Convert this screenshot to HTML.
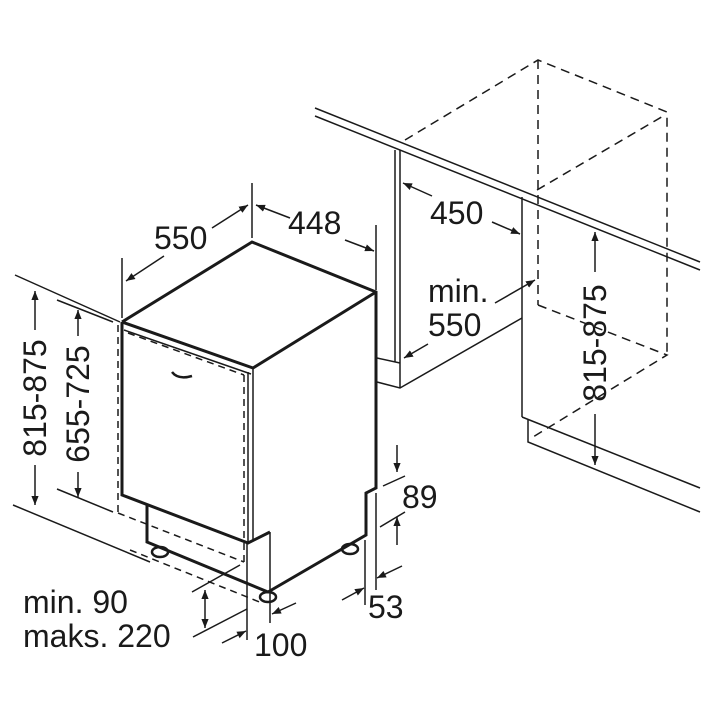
<!DOCTYPE html>
<html><head><meta charset="utf-8"><style>
html,body{margin:0;padding:0;background:#fff}
svg{display:block}
text{font-family:"Liberation Sans",sans-serif;font-size:32px;fill:#1a1a1a}
</style></head><body>
<svg width="720" height="720" viewBox="0 0 720 720" xmlns="http://www.w3.org/2000/svg">
<defs>
<marker id="a" viewBox="0 0 10 10" refX="10" refY="5" markerWidth="9" markerHeight="9" orient="auto-start-reverse" markerUnits="userSpaceOnUse"><path d="M0,1 L10,5 L0,9 Z" fill="#1a1a1a"/></marker>
</defs>
<g stroke="#1a1a1a" fill="none" stroke-width="1.5">
<line x1="315" y1="108" x2="700" y2="262"/>
<line x1="315" y1="116" x2="700" y2="270"/>
<line x1="395" y1="150" x2="395" y2="362"/>
<line x1="400" y1="150" x2="400" y2="388"/>
<polyline points="377,358 400,363"/>
<polyline points="377,382 400,388 522,318"/>
<line x1="522" y1="197" x2="522" y2="417"/>
<polyline points="522,417 700,488"/>
<polyline points="528,420 528,442 700,512"/>
<g stroke-dasharray="9,6">
<polyline points="405,140 538,60 667,112 667,355"/>
<line x1="538" y1="60" x2="538" y2="305"/>
<line x1="537" y1="190" x2="665" y2="115"/>
<polyline points="538,305 667,355 533,437"/>
</g>
<g stroke-width="3">
<polyline points="122,322 252,242 376,292 376,488 366,493 366,535 268,592 147,542 147,505"/>
<polyline points="122,322 253,368 376,292"/>
<polyline points="122,322 122,495 248,543 270,532"/>
</g>
<line x1="253" y1="368" x2="253" y2="540"/>
<line x1="248" y1="372" x2="248" y2="543"/>
<line x1="124" y1="330" x2="251" y2="374"/>
<line x1="270" y1="532" x2="270" y2="623"/>
<line x1="247" y1="543" x2="247" y2="640"/>
<path d="M172,372 q6,8 20,4" stroke-width="2.5"/>
<g stroke-dasharray="7,5">
<line x1="128" y1="333" x2="244" y2="375"/>
<line x1="244" y1="375" x2="244" y2="562"/>
<line x1="118" y1="325" x2="118" y2="513"/>
<line x1="118" y1="513" x2="244" y2="562"/>
<line x1="130" y1="550" x2="262" y2="603"/>
</g>
<ellipse cx="160" cy="552" rx="8" ry="5" stroke-width="2.5"/>
<ellipse cx="268" cy="597" rx="8" ry="5" stroke-width="2.5"/>
<ellipse cx="350" cy="549" rx="8" ry="5" stroke-width="2.5"/>
<line x1="122" y1="258" x2="122" y2="318"/>
<line x1="252" y1="183" x2="252" y2="238"/>
<line x1="376" y1="225" x2="376" y2="290"/>
<line x1="164" y1="256" x2="126" y2="281" marker-end="url(#a)"/>
<line x1="212" y1="228" x2="248" y2="205" marker-end="url(#a)"/>
<line x1="290" y1="218" x2="256" y2="205" marker-end="url(#a)"/>
<line x1="345" y1="240" x2="374" y2="251" marker-end="url(#a)"/>
<line x1="15" y1="275" x2="120" y2="322"/>
<line x1="57" y1="300" x2="113" y2="322"/>
<line x1="13" y1="505" x2="150" y2="562"/>
<line x1="57" y1="489" x2="113" y2="512"/>
<line x1="35" y1="330" x2="35" y2="291" marker-end="url(#a)"/>
<line x1="35" y1="465" x2="35" y2="505" marker-end="url(#a)"/>
<line x1="78" y1="336" x2="78" y2="310" marker-end="url(#a)"/>
<line x1="78" y1="472" x2="78" y2="497" marker-end="url(#a)"/>
<line x1="432" y1="196" x2="403" y2="183" marker-end="url(#a)"/>
<line x1="492" y1="222" x2="520" y2="234" marker-end="url(#a)"/>
<line x1="495" y1="303" x2="535" y2="280" marker-end="url(#a)"/>
<line x1="428" y1="344" x2="404" y2="358" marker-end="url(#a)"/>
<line x1="595" y1="272" x2="595" y2="232" marker-end="url(#a)"/>
<line x1="595" y1="414" x2="595" y2="465" marker-end="url(#a)"/>
<line x1="397" y1="445" x2="397" y2="472" marker-end="url(#a)"/>
<line x1="383" y1="486" x2="405" y2="476"/>
<line x1="397" y1="545" x2="397" y2="517" marker-end="url(#a)"/>
<line x1="380" y1="527" x2="405" y2="512"/>
<line x1="376" y1="493" x2="376" y2="590"/>
<line x1="365" y1="540" x2="365" y2="605"/>
<line x1="342" y1="600" x2="364" y2="588" marker-end="url(#a)"/>
<line x1="402" y1="566" x2="377" y2="578" marker-end="url(#a)"/>
<line x1="222" y1="643" x2="246" y2="631" marker-end="url(#a)"/>
<line x1="296" y1="603" x2="272" y2="614" marker-end="url(#a)"/>
<line x1="192" y1="592" x2="240" y2="565"/>
<line x1="193" y1="637" x2="247" y2="609"/>
<line x1="205" y1="612" x2="205" y2="590" marker-end="url(#a)"/>
<line x1="205" y1="612" x2="205" y2="628" marker-end="url(#a)"/>
</g>
<text x="154" y="249">550</text>
<text x="288" y="234">448</text>
<text x="430" y="224">450</text>
<text x="428" y="302">min.</text>
<text x="428" y="336">550</text>
<text x="402" y="508">89</text>
<text x="368" y="618">53</text>
<text x="254" y="656">100</text>
<text x="23" y="613">min. 90</text>
<text x="23" y="647">maks. 220</text>
<text transform="translate(46,398) rotate(-90)" text-anchor="middle">815-875</text>
<text transform="translate(89,404) rotate(-90)" text-anchor="middle">655-725</text>
<text transform="translate(606,343) rotate(-90)" text-anchor="middle">815-875</text>
</svg>
</body></html>
